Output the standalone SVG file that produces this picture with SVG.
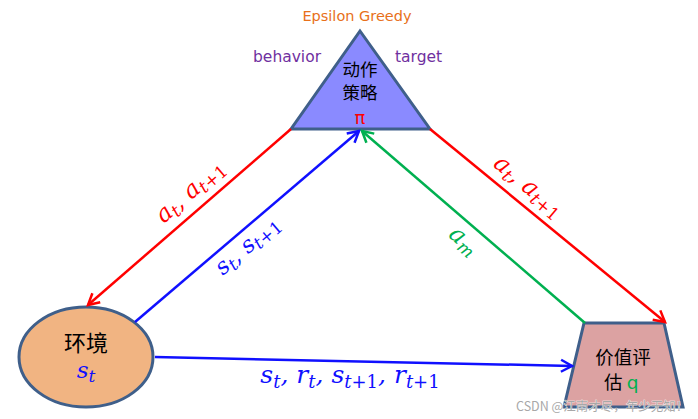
<svg xmlns="http://www.w3.org/2000/svg" width="698" height="419" viewBox="0 0 698 419">
<style>
.node{stroke:#3F5F8A;stroke-width:3}
.cjk{font-family:"Noto Sans CJK SC","Noto Sans",sans-serif;fill:#000}
.sans{font-family:"DejaVu Sans","Noto Sans",sans-serif}
.math{font-family:"DejaVu Serif","Liberation Serif",serif;font-style:italic}
.up{font-style:normal}
.conn{fill:none;stroke-width:2.5}
</style>
<defs>
<marker id="ar" markerUnits="userSpaceOnUse" markerWidth="20" markerHeight="20" refX="0" refY="0" orient="auto" overflow="visible"><path d="M-11,-6 L0,0 L-11,6" fill="none" stroke="#FF0000" stroke-width="2.5"/></marker>
<marker id="ab" markerUnits="userSpaceOnUse" markerWidth="20" markerHeight="20" refX="0" refY="0" orient="auto" overflow="visible"><path d="M-11,-6 L0,0 L-11,6" fill="none" stroke="#1010FF" stroke-width="2.5"/></marker>
<marker id="ag" markerUnits="userSpaceOnUse" markerWidth="20" markerHeight="20" refX="0" refY="0" orient="auto" overflow="visible"><path d="M-11,-6 L0,0 L-11,6" fill="none" stroke="#00B050" stroke-width="2.5"/></marker>
</defs>
<rect width="698" height="419" fill="#fff"/>
<g id="policy">
<polygon class="node" points="360,31 430,129 291,129" fill="#8A8AFF"/>
<text class="cjk" x="360" y="76" font-size="17.5" text-anchor="middle">动作</text>
<text class="cjk" x="360" y="99" font-size="17.5" text-anchor="middle">策略</text>
<text class="sans" x="360" y="124" font-size="18" fill="#FF0000" text-anchor="middle">π</text>
<text class="sans" x="357" y="21" font-size="14.5" fill="#E8701A" text-anchor="middle">Epsilon Greedy</text>
<text class="sans" x="253" y="62" font-size="15.5" fill="#7030A0">behavior</text>
<text class="sans" x="395" y="62" font-size="15.5" fill="#7030A0">target</text>
</g>
<g id="env">
<ellipse class="node" cx="86" cy="357" rx="67" ry="50" fill="#F1B482"/>
<text class="cjk" x="86" y="351" font-size="22" text-anchor="middle">环境</text>
<text class="math" x="86" y="378" font-size="23" fill="#1010FF" text-anchor="middle">s<tspan font-size="17" dy="4">t</tspan></text>
</g>
<g id="value">
<polygon class="node" points="584,323 664,323 683,407 564,407" fill="#DCA2A2"/>
<text class="cjk" x="623" y="364" font-size="18.5" text-anchor="middle">价值评</text>
<text class="cjk" x="604" y="389" font-size="18.5">估 <tspan class="sans" fill="#00B050">q</tspan></text>
</g>
<g id="connectors">
<line class="conn" x1="291" y1="129" x2="88" y2="305" stroke="#FF0000" marker-end="url(#ar)"/>
<line class="conn" x1="135" y1="322" x2="359" y2="131" stroke="#1010FF" marker-end="url(#ab)"/>
<line class="conn" x1="585" y1="323" x2="362" y2="131" stroke="#00B050" marker-end="url(#ag)"/>
<line class="conn" x1="430" y1="129" x2="665" y2="322" stroke="#FF0000" marker-end="url(#ar)"/>
<line class="conn" x1="155" y1="357" x2="572" y2="366" stroke="#1010FF" marker-end="url(#ab)"/>
<text class="math" font-size="24" fill="#FF0000" text-anchor="middle" transform="translate(195,197) rotate(-41)" xml:space="preserve">a<tspan font-size="17" dy="4">t</tspan><tspan dy="-4">, a</tspan><tspan font-size="17" dy="4">t<tspan class="up">+1</tspan></tspan></text>
<text class="math" font-size="23" fill="#1010FF" text-anchor="middle" transform="translate(252,251) rotate(-40.5)" xml:space="preserve">s<tspan font-size="17" dy="4">t</tspan><tspan dy="-4">, s</tspan><tspan font-size="17" dy="4">t<tspan class="up">+1</tspan></tspan></text>
<text class="math" font-size="24" fill="#00B050" text-anchor="middle" transform="translate(459,246) rotate(41)">a<tspan font-size="17" dy="4">m</tspan></text>
<text class="math" font-size="24" fill="#FF0000" text-anchor="middle" transform="translate(524,192) rotate(40)" xml:space="preserve">a<tspan font-size="17" dy="4">t</tspan><tspan dy="-4">, a</tspan><tspan font-size="17" dy="4">t<tspan class="up">+1</tspan></tspan></text>
<text class="math" x="350" y="383" font-size="25" fill="#1010FF" text-anchor="middle" xml:space="preserve">s<tspan font-size="18" dy="5">t</tspan><tspan dy="-5">, r</tspan><tspan font-size="18" dy="5">t</tspan><tspan dy="-5">, s</tspan><tspan font-size="18" dy="5">t<tspan class="up">+1</tspan></tspan><tspan dy="-5">, r</tspan><tspan font-size="18" dy="5">t<tspan class="up">+1</tspan></tspan></text>
</g>
<text x="516" y="411" font-size="12.5" font-family="'Noto Sans CJK SC','Noto Sans',sans-serif" fill="#A8A8A8" stroke="#fff" stroke-width="0.6" paint-order="stroke">CSDN @江南才尽，年少无知！</text>
</svg>
